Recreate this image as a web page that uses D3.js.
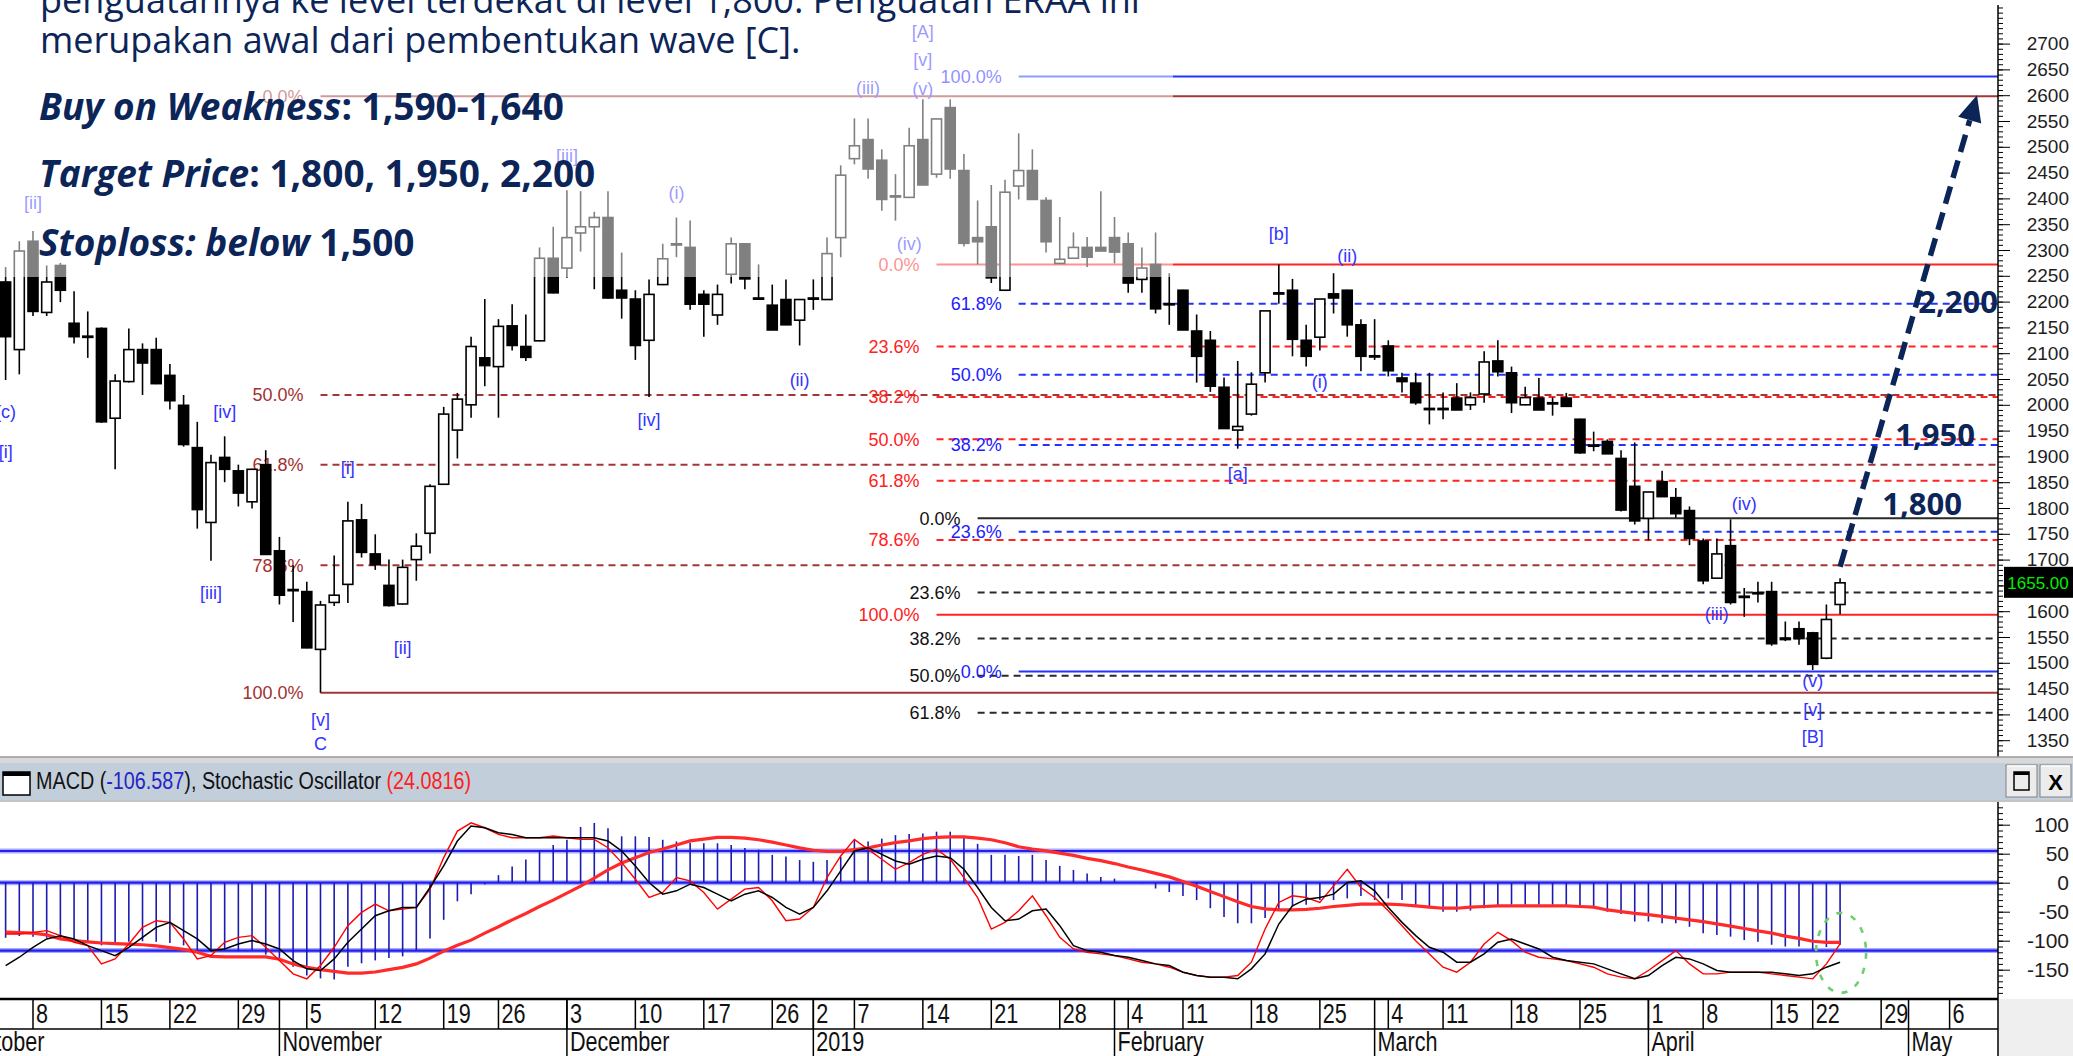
<!DOCTYPE html>
<html>
<head>
<meta charset="utf-8">
<script src="https://cdn.jsdelivr.net/npm/d3@7"></script>
<style>
  body { margin: 0; background: #fff; overflow: hidden; }
  svg { display: block; }
</style>
</head>
<body>
<div id="chart"></div>
<script>
// ---- data ----
var holidays = ["2018-11-20", "2018-12-24", "2018-12-25", "2018-12-31", "2019-01-01",
  "2019-02-05", "2019-03-07", "2019-04-03", "2019-04-17", "2019-04-19"];
var firstCandle = "2018-10-04";

var open = [2238,2107,2317,2179,2270,2158,2133,2148,1974,2045,
  2107,2107,2057,1999,1917,1772,1898,1872,1812,1884,
  1717,1642,1638,1526,1617,1652,1777,1711,1650,1614,
  1700,1751,1846,1951,2000,2091,2074,2153,2113,2124,
  2284,2265,2333,2345,2363,2222,2205,2125,2233,2311,
  2305,2214,2174,2253,2312,2207,2193,2204,2164,2207,
  2204,2324,2477,2514,2474,2405,2402,2514,2447,2576,
  2454,2324,2345,2222,2424,2454,2396,2274,2284,2305,
  2305,2324,2312,2243,2272,2196,2222,2143,2125,2034,
  1951,1982,2062,2217,2222,2125,2131,2215,2222,2155,
  2095,2114,2052,2042,1993,1993,2013,2000,2021,2085,
  2062,2000,2013,2004,2013,1972,1922,1929,1896,1842,
  1780,1851,1820,1795,1736,1664,1727,1629,1636,1638,
  1548,1566,1558,1509,1613];
var high = [2267,2317,2337,2270,2275,2220,2181,2150,2059,2148,
  2119,2130,2079,2019,1967,1903,1939,1884,1876,1912,
  1744,1689,1657,1620,1708,1812,1808,1749,1700,1700,
  1751,1846,1996,2023,2132,2205,2166,2195,2175,2305,
  2345,2416,2414,2374,2414,2295,2222,2243,2312,2363,
  2357,2222,2233,2324,2313,2272,2233,2243,2205,2243,
  2324,2464,2555,2555,2495,2447,2537,2592,2554,2592,
  2486,2396,2426,2436,2526,2495,2402,2364,2334,2325,
  2414,2364,2334,2305,2334,2255,2223,2175,2143,2053,
  2085,2063,2182,2272,2244,2155,2205,2255,2223,2166,
  2166,2125,2062,2062,2062,2024,2042,2024,2104,2125,
  2074,2035,2052,2014,2023,1973,1948,1933,1912,1927,
  1831,1872,1839,1803,1741,1741,1778,1645,1657,1657,
  1580,1580,1560,1613,1664];
var low = [2048,2059,2172,2172,2199,2119,2091,1965,1875,2043,
  2019,2040,1991,1919,1760,1698,1850,1803,1799,1709,
  1613,1579,1528,1442,1610,1616,1704,1680,1609,1613,
  1659,1712,1845,1896,1975,2036,1975,2105,2085,2123,
  2216,2246,2297,2224,2206,2167,2087,2015,2232,2286,
  2184,2132,2155,2235,2224,2206,2145,2155,2115,2184,
  2203,2286,2466,2438,2376,2357,2401,2426,2440,2438,
  2307,2272,2236,2221,2398,2397,2295,2273,2283,2267,
  2298,2274,2217,2217,2177,2155,2145,2043,2025,1954,
  1915,1979,2043,2196,2094,2074,2105,2177,2132,2065,
  2087,2055,2024,2000,1962,1972,1990,1990,2004,2055,
  1984,1999,1990,1979,1996,1905,1910,1905,1793,1768,
  1737,1822,1781,1728,1652,1664,1613,1589,1617,1533,
  1542,1535,1486,1507,1594];
var close = [2132,2298,2181,2238,2222,2132,2131,1967,2046,2107,
  2081,2041,2008,1923,1797,1888,1875,1829,1875,1710,
  1631,1640,1529,1612,1631,1775,1714,1690,1611,1685,
  1726,1842,1982,2011,2113,2076,2152,2115,2092,2284,
  2217,2324,2345,2363,2207,2207,2115,2214,2283,2312,
  2195,2195,2214,2312,2244,2207,2145,2155,2204,2207,
  2293,2445,2502,2457,2398,2405,2502,2426,2554,2457,
  2313,2316,2246,2412,2454,2398,2316,2282,2305,2286,
  2298,2296,2236,2265,2186,2196,2145,2094,2036,1954,
  1958,2040,2182,2217,2127,2094,2205,2207,2155,2094,
  2095,2066,2045,2004,1993,1993,1990,2014,2083,2064,
  2004,2014,1990,2004,1997,1907,1922,1905,1796,1775,
  1831,1822,1789,1741,1659,1711,1617,1629,1636,1537,
  1545,1547,1497,1584,1655];

var macdHist = [-95,-92,-93,-95,-96,-99,-101,-108,-106,-102,
  -101,-102,-104,-108,-117,-116,-116,-118,-116,-124,
  -133,-145,-160,-165,-167,-145,-139,-134,-130,-127,
  -116,-96,-64,-32,-20,-3,13,28,40,56,
  65,74,96,103,94,80,80,79,74,71,
  69,68,68,65,60,57,48,45,39,36,
  39,45,74,71,76,82,84,85,88,88,
  79,67,48,48,46,48,39,29,22,16,
  10,7,1,-1,-10,-16,-23,-30,-44,-59,
  -70,-70,-61,-47,-41,-38,-30,-30,-27,-23,
  -30,-27,-30,-40,-44,-50,-50,-48,-44,-41,
  -38,-38,-38,-38,-41,-41,-44,-50,-54,-67,
  -67,-70,-70,-76,-87,-90,-93,-99,-102,-107,
  -110,-110,-116,-111,-107];
var macdSignal = [-85,-86,-87,-90,-97,-100,-102,-104,-105,-106,
  -107,-109,-112,-115,-120,-127,-128,-128,-128,-128,
  -132,-140,-146,-150,-153,-156,-156,-154,-150,-146,
  -140,-130,-118,-108,-99,-87,-76,-64,-53,-41,
  -30,-18,-6,8,22,34,43,52,58,65,
  72,75,78,78,77,74,70,65,60,56,
  54,54,57,60,65,69,72,76,78,79,
  79,77,74,69,62,58,55,51,47,42,
  38,33,27,22,16,10,2,-6,-15,-24,
  -33,-41,-45,-47,-47,-46,-44,-41,-39,-37,
  -37,-37,-38,-40,-42,-44,-44,-42,-41,-40,
  -40,-40,-40,-40,-40,-41,-42,-47,-50,-53,
  -55,-58,-61,-64,-67,-71,-75,-79,-83,-87,
  -92,-96,-101,-103,-103];
var stochK = [30,30,31,32,29,25,23,12,15,24,
  34,38,37,27,15,17,25,28,29,22,
  14,6,3,11,22,35,43,48,44,45,
  46,57,76,92,97,94,90,88,88,88,
  89,88,87,87,82,73,63,52,55,64,
  62,55,45,51,57,58,50,38,39,46,
  64,77,87,81,75,69,73,78,81,75,
  64,52,33,37,44,53,41,28,21,19,
  18,17,15,13,12,10,7,5,4,4,
  5,13,33,49,53,52,49,59,69,58,
  52,44,35,26,18,10,7,13,24,31,
  26,19,16,15,14,12,10,6,4,3,
  8,14,20,12,6,6,7,7,7,6,
  5,4,3,12,24.08];
var stochD = [11,16,22,27,29,27,23,20,17,22,
  28,34,37,32,27,20,21,24,26,24,
  21,14,9,8,15,25,33,41,44,46,
  46,58,71,86,95,94,91,90,88,88,
  88,88,88,88,86,80,71,61,54,56,
  60,58,54,50,54,56,52,46,42,46,
  56,68,80,82,78,74,72,75,77,76,
  69,58,46,38,39,44,45,35,23,20,
  19,17,16,14,12,11,7,5,4,4,
  3,9,18,36,47,51,52,54,61,62,
  56,46,37,29,22,19,13,13,18,25,
  27,24,21,16,14,13,12,9,6,3,
  5,11,16,15,12,8,7,7,7,7,
  6,5,6,10,13];

var priceTicks = d3.range(1350, 2701, 50);
var macdTicks = [-150, -100, -50, 0, 50, 100];
var stochLevels = [80, 20];
var monthNames = ["2019", "February", "March", "April", "May", "June", "July", "August",
  "September", "October", "November", "December"];

// fibonacci retracement sets
var brownLevels = [2598, 2019, 1884, 1689, 1442];
var brownPct = ["0.0%", "50.0%", "61.8%", "78.6%", "100.0%"];
var redLevels = [2272, 2113, 2015, 1933, 1853, 1738, 1593];
var redPct = ["0.0%", "23.6%", "38.2%", "50.0%", "61.8%", "78.6%", "100.0%"];
var blueLevels = [2636, 2196, 2058, 1922, 1754, 1483];
var bluePct = ["100.0%", "61.8%", "50.0%", "38.2%", "23.6%", "0.0%"];
var blackLevels = [1780, 1636, 1547, 1475, 1403];
var blackPct = ["0.0%", "23.6%", "38.2%", "50.0%", "61.8%"];

var waveText = ["[ii]", "(c)", "[i]", "[iv]", "[iii]", "[i]", "[ii]", "[v]", "C", "[iii]", "(i)",
  "[iv]", "(ii)", "(iii)", "[A]", "[v]", "(v)", "(iv)", "[a]", "[b]", "(ii)", "(i)", "(iii)",
  "(iv)", "(v)", "[v]", "[B]"];
var waveDate = ["2018-10-08", "2018-10-04", "2018-10-04", "2018-10-26", "2018-10-25", "2018-11-08",
  "2018-11-14", "2018-11-06", "2018-11-06", "2018-12-03", "2018-12-13", "2018-12-11", "2018-12-28",
  "2019-01-08", "2019-01-14", "2019-01-14", "2019-01-14", "2019-01-11", "2019-02-15", "2019-02-20",
  "2019-02-27", "2019-02-25", "2019-04-09", "2019-04-11", "2019-04-22", "2019-04-22", "2019-04-22"];
var wavePrice = [2391, 1986, 1910, 1986, 1635, 1879, 1529, 1389, 1343, 2482, 2412, 1972, 2048,
  2614, 2724, 2668, 2612, 2312, 1866, 2331, 2288, 2044, 1595, 1808, 1465, 1409, 1356];

var targetText = ["2,200", "1,950", "1,800"];
var targetPrice = [2200, 1941, 1808];

// ---- layout ----
var W = 2073, H = 1056;
var axisX = 1998, priceBottom = 757;
var navy = "#0c2558";

var fmt = d3.timeFormat("%Y-%m-%d"), parse = d3.timeParse("%Y-%m-%d");
var days = d3.timeDay.range(new Date(2018, 9, 1), new Date(2019, 4, 11))
  .filter(function(d) { return d.getDay() > 0 && d.getDay() < 6 && holidays.indexOf(fmt(d)) < 0; })
  .map(fmt);
var step = 13.69;
var x0 = 33 - days.indexOf("2018-10-08") * step;
var x = d3.scalePoint().domain(days).range([x0, x0 + step * (days.length - 1)]);

var startIdx = days.indexOf(firstCandle);
var candles = open.map(function(o, i) {
  return {date: days[startIdx + i], o: o, h: high[i], l: low[i], c: close[i],
    macd: macdHist[i], sig: macdSignal[i], k: stochK[i], d: stochD[i]};
});

var y = d3.scaleLinear().domain([1350, 2700]).range([740.2, 43.6]);
var yM = d3.scaleLinear().domain([-150, 100]).range([969.7, 824.7]);
var yS = d3.scaleLinear().domain([20, 80]).range([950.6, 851]);

var svg = d3.select("#chart").append("svg")
  .attr("width", W).attr("height", H)
  .style("font-family", "'Liberation Sans', Arial, sans-serif");

var defs = svg.append("defs");
defs.append("clipPath").attr("id", "clipPrice")
  .append("rect").attr("x", 0).attr("y", 0).attr("width", axisX).attr("height", priceBottom);
defs.append("clipPath").attr("id", "clipMacd")
  .append("rect").attr("x", 0).attr("y", 802).attr("width", axisX).attr("height", 197);

svg.append("rect").attr("width", W).attr("height", H).attr("fill", "#fff");

// ---- price panel ----
var price = svg.append("g").attr("clip-path", "url(#clipPrice)");

function fibSet(levels, pcts, color, labelColor, startDate, solidIdx) {
  var x1 = x(startDate);
  var g = price.append("g");
  levels.forEach(function(v, i) {
    var solid = solidIdx.indexOf(i) >= 0;
    g.append("line")
      .attr("x1", x1).attr("x2", axisX)
      .attr("y1", y(v)).attr("y2", y(v))
      .attr("stroke", color).attr("stroke-width", 2)
      .attr("stroke-dasharray", solid ? null : "7,5");
    g.append("text")
      .attr("x", x1 - 17).attr("y", y(v))
      .attr("dy", "0.35em")
      .attr("text-anchor", "end")
      .attr("fill", labelColor)
      .style("font-size", "18px")
      .text(pcts[i]);
  });
}

fibSet(brownLevels, brownPct, "#a33636", "#a33030", "2018-11-06", [0, 4]);
fibSet(redLevels, redPct, "#ff2424", "#ff2020", "2019-01-15", [0, 6]);
fibSet(blackLevels, blackPct, "#2a2a2a", "#111", "2019-01-18", [0]);
fibSet(blueLevels, bluePct, "#2233ff", "#2020ff", "2019-01-23", [0, 5]);

// candles
var bw = 10;
var cg = price.append("g");
cg.selectAll("line.wick").data(candles).enter().append("line")
  .attr("class", "wick")
  .attr("x1", function(d) { return x(d.date); })
  .attr("x2", function(d) { return x(d.date); })
  .attr("y1", function(d) { return y(d.h); })
  .attr("y2", function(d) { return y(d.l); })
  .attr("stroke", "#000").attr("stroke-width", 1.6);
cg.selectAll("rect.body").data(candles).enter().append("rect")
  .attr("class", "body")
  .attr("x", function(d) { return x(d.date) - bw / 2; })
  .attr("y", function(d) { return y(Math.max(d.o, d.c)); })
  .attr("width", bw)
  .attr("height", function(d) { return Math.max(1.2, Math.abs(y(d.o) - y(d.c))); })
  .attr("fill", function(d) { return d.c > d.o ? "#fff" : "#000"; })
  .attr("stroke", "#000").attr("stroke-width", 1.6);

// wave labels
price.append("g").selectAll("text").data(waveText).enter().append("text")
  .attr("x", function(d, i) { return x(waveDate[i]); })
  .attr("y", function(d, i) { return y(wavePrice[i]); })
  .attr("dy", "0.35em")
  .attr("text-anchor", "middle")
  .attr("fill", "#3434ff")
  .style("font-size", "18px")
  .text(function(d) { return d; });

// translucent box behind the commentary
price.append("rect")
  .attr("x", 0).attr("y", 0).attr("width", 1173).attr("height", 277)
  .attr("fill", "#fff").attr("opacity", 0.5);

// commentary text
var txt = svg.append("g")
  .style("font-family", "'Open Sans', 'Noto Sans', sans-serif")
  .attr("fill", navy);
txt.append("text").attr("x", 40).attr("y", 13).style("font-size", "36px")
  .text("penguatannya ke level terdekat di level 1,800. Penguatan ERAA ini");
txt.append("text").attr("x", 40).attr("y", 53).style("font-size", "36px")
  .text("merupakan awal dari pembentukan wave [C].");
var bold = [
  [["Buy on Weakness", true], [": 1,590-1,640", false]],
  [["Target Price", true], [": 1,800, 1,950, 2,200", false]],
  [["Stoploss: below", true], [" 1,500", false]]
];
var boldY = [120, 187, 256];
bold.forEach(function(parts, i) {
  var t = txt.append("text").attr("x", 39).attr("y", boldY[i])
    .style("font-size", "37px").style("font-weight", 700);
  parts.forEach(function(p) {
    t.append("tspan").style("font-style", p[1] ? "italic" : "normal").text(p[0]);
  });
});

// target labels
var targetRight = [1998, 1975, 1962];
svg.append("g").selectAll("text").data(targetText).enter().append("text")
  .attr("x", function(d, i) { return targetRight[i]; })
  .attr("y", function(d, i) { return y(targetPrice[i]); })
  .attr("dy", "0.36em")
  .attr("text-anchor", "end")
  .attr("fill", navy)
  .style("font-family", "'Open Sans', sans-serif")
  .style("font-size", "31px").style("font-weight", 700)
  .text(function(d) { return d; });

// projection arrow
var ax1 = x("2019-04-24"), ay1 = y(1686), ax2 = x("2019-05-08"), ay2 = y(2600);
var ang = Math.atan2(ay2 - ay1, ax2 - ax1), headLen = 26, headW = 12;
var bx = ax2 - headLen * Math.cos(ang), by = ay2 - headLen * Math.sin(ang);
svg.append("line")
  .attr("x1", ax1).attr("y1", ay1).attr("x2", bx).attr("y2", by)
  .attr("stroke", navy).attr("stroke-width", 5.5).attr("stroke-dasharray", "18,9");
svg.append("path")
  .attr("d", "M" + ax2 + "," + ay2 +
    "L" + (bx + headW * Math.sin(ang)) + "," + (by - headW * Math.cos(ang)) +
    "L" + (bx - headW * Math.sin(ang)) + "," + (by + headW * Math.cos(ang)) + "Z")
  .attr("fill", navy);

// price axis
svg.append("line").attr("x1", axisX).attr("x2", axisX).attr("y1", 5).attr("y2", priceBottom)
  .attr("stroke", "#000").attr("stroke-width", 1.5);
var minorP = d3.range(1320, 2790, 10).filter(function(v) { return y(v) > 6 && y(v) < priceBottom - 2; });
var gpm = svg.append("g").attr("transform", "translate(" + axisX + ",0)")
  .call(d3.axisRight(y).tickValues(minorP).tickSize(5).tickFormat(""));
gpm.select(".domain").remove();
var gpM = svg.append("g").attr("transform", "translate(" + axisX + ",0)")
  .call(d3.axisRight(y).tickValues(priceTicks).tickSize(12).tickFormat(function(v) { return String(v); }));
gpM.select(".domain").remove();
gpM.selectAll("text").attr("x", 71).attr("text-anchor", "end")
  .attr("fill", "#1e1e1e").style("font-size", "19px").style("font-family", "'Liberation Sans', Arial");
svg.selectAll(".tick line").attr("stroke", "#000");

// last price box
var lastC = close[close.length - 1];
svg.append("rect").attr("x", 2004).attr("y", y(lastC) - 16).attr("width", 69).attr("height", 31)
  .attr("fill", "#000");
svg.append("text").attr("x", 2038).attr("y", y(lastC)).attr("dy", "0.36em")
  .attr("text-anchor", "middle").attr("fill", "#00ee00").style("font-size", "17px")
  .text(lastC.toFixed(2));

// ---- separator and indicator header ----
svg.append("rect").attr("x", 0).attr("y", priceBottom).attr("width", W).attr("height", 6).attr("fill", "#d9d9d9");
svg.append("line").attr("x1", 0).attr("x2", W).attr("y1", priceBottom).attr("y2", priceBottom)
  .attr("stroke", "#9a9a9a").attr("stroke-width", 1.5);
svg.append("rect").attr("x", 0).attr("y", 763).attr("width", W).attr("height", 37).attr("fill", "#c3cedb");
svg.append("line").attr("x1", 0).attr("x2", W).attr("y1", 801).attr("y2", 801)
  .attr("stroke", "#b0b0b0").attr("stroke-width", 1.5);
svg.append("rect").attr("x", 3).attr("y", 772).attr("width", 27).attr("height", 23)
  .attr("fill", "#fff").attr("stroke", "#000").attr("stroke-width", 1.5);
svg.append("rect").attr("x", 3).attr("y", 772).attr("width", 27).attr("height", 4).attr("fill", "#000");
var head = svg.append("text").attr("transform", "translate(36,789) scale(0.86,1)")
  .style("font-family", "'Liberation Sans Narrow', 'Liberation Sans', Arial")
  .style("font-size", "23px").attr("fill", "#111");
head.append("tspan").text("MACD (");
head.append("tspan").attr("fill", "#2424c8").text("-106.587");
head.append("tspan").text("), Stochastic Oscillator ");
head.append("tspan").attr("fill", "#ff2020").text("(24.0816)");
[2006, 2040].forEach(function(bxp, i) {
  svg.append("rect").attr("x", bxp).attr("y", 765).attr("width", 31).attr("height", 32)
    .attr("fill", "#ececec").attr("stroke", "#808080").attr("stroke-width", 1);
  svg.append("line").attr("x1", bxp + 1).attr("x2", bxp + 30).attr("y1", 766).attr("y2", 766)
    .attr("stroke", "#fff").attr("stroke-width", 1.5);
  if (i === 0) {
    svg.append("rect").attr("x", bxp + 8).attr("y", 772).attr("width", 15).attr("height", 18)
      .attr("fill", "none").attr("stroke", "#000").attr("stroke-width", 1.5);
    svg.append("rect").attr("x", bxp + 8).attr("y", 772).attr("width", 15).attr("height", 3).attr("fill", "#000");
  } else {
    svg.append("text").attr("x", bxp + 15.5).attr("y", 790).attr("text-anchor", "middle")
      .style("font-size", "22px").style("font-weight", 700).text("X");
  }
});

// ---- MACD / stochastic panel ----
var macd = svg.append("g").attr("clip-path", "url(#clipMacd)");
var levelY = [yS(stochLevels[0]), yM(0), yS(stochLevels[1])];
levelY.forEach(function(ly) {
  macd.append("line").attr("x1", 0).attr("x2", axisX).attr("y1", ly).attr("y2", ly)
    .attr("stroke", "#a9a9ff").attr("stroke-width", 5);
  macd.append("line").attr("x1", 0).attr("x2", axisX).attr("y1", ly).attr("y2", ly)
    .attr("stroke", "#2020f0").attr("stroke-width", 2.2);
});
macd.selectAll("line.hist").data(candles).enter().append("line")
  .attr("class", "hist")
  .attr("x1", function(d) { return x(d.date); })
  .attr("x2", function(d) { return x(d.date); })
  .attr("y1", yM(0))
  .attr("y2", function(d) { return yM(d.macd); })
  .attr("stroke", "#1b1bb0").attr("stroke-width", 1.6);
macd.append("path").datum(candles)
  .attr("fill", "none").attr("stroke", "#ff2b2b").attr("stroke-width", 3.2)
  .attr("d", d3.line().x(function(d) { return x(d.date); }).y(function(d) { return yM(d.sig); }));
macd.append("path").datum(candles)
  .attr("fill", "none").attr("stroke", "#ff0000").attr("stroke-width", 1.4)
  .attr("d", d3.line().x(function(d) { return x(d.date); }).y(function(d) { return yS(d.k); }));
macd.append("path").datum(candles)
  .attr("fill", "none").attr("stroke", "#000").attr("stroke-width", 1.5)
  .attr("d", d3.line().x(function(d) { return x(d.date); }).y(function(d) { return yS(d.d); }));
macd.append("ellipse")
  .attr("cx", x("2019-04-24") + 1).attr("cy", yM(-121)).attr("rx", 25).attr("ry", 40)
  .attr("fill", "none").attr("stroke", "#6ccf6c").attr("stroke-width", 2.6)
  .attr("stroke-dasharray", "6,9");

// MACD axis
svg.append("line").attr("x1", axisX).attr("x2", axisX).attr("y1", 802).attr("y2", 999)
  .attr("stroke", "#000").attr("stroke-width", 1.5);
var minorM = d3.range(-200, 160, 10).filter(function(v) { return yM(v) > 805 && yM(v) < 997; });
var gmm = svg.append("g").attr("transform", "translate(" + axisX + ",0)")
  .call(d3.axisRight(yM).tickValues(minorM).tickSize(5).tickFormat(""));
gmm.select(".domain").remove();
var gmM = svg.append("g").attr("transform", "translate(" + axisX + ",0)")
  .call(d3.axisRight(yM).tickValues(macdTicks).tickSize(12).tickFormat(function(v) { return String(v); }));
gmM.select(".domain").remove();
gmM.selectAll("text").attr("x", 71).attr("text-anchor", "end").attr("fill", "#1e1e1e")
  .style("font-size", "21px").style("font-family", "'Liberation Sans Narrow', 'Liberation Sans', Arial");
svg.selectAll(".tick line").attr("stroke", "#000");

// ---- date axis ----
var ax = svg.append("g");
ax.append("rect").attr("x", axisX).attr("y", 999).attr("width", W - axisX).attr("height", H - 999)
  .attr("fill", "#efefef");
ax.append("line").attr("x1", 0).attr("x2", axisX).attr("y1", 999).attr("y2", 999)
  .attr("stroke", "#000").attr("stroke-width", 2.5);
ax.append("line").attr("x1", 0).attr("x2", axisX).attr("y1", 1029).attr("y2", 1029)
  .attr("stroke", "#000").attr("stroke-width", 1.5);
ax.append("line").attr("x1", axisX).attr("x2", axisX).attr("y1", 999).attr("y2", H)
  .attr("stroke", "#000").attr("stroke-width", 1.5);

var weekStarts = days.filter(function(d, i) {
  return i === 0 || +d3.timeMonday.floor(parse(d)) !== +d3.timeMonday.floor(parse(days[i - 1]));
});
var monthStarts = days.filter(function(d, i) {
  return i === 0 || d.slice(0, 7) !== days[i - 1].slice(0, 7);
});
defs.append("clipPath").attr("id", "clipAxis")
  .append("rect").attr("x", 0).attr("y", 999).attr("width", axisX).attr("height", 57);
var axClip = ax.append("g").attr("clip-path", "url(#clipAxis)");

axClip.selectAll("line.wk").data(weekStarts).enter().append("line")
  .attr("x1", function(d) { return x(d); }).attr("x2", function(d) { return x(d); })
  .attr("y1", 999).attr("y2", 1029).attr("stroke", "#000").attr("stroke-width", 1.5);
axClip.selectAll("line.mo").data(monthStarts).enter().append("line")
  .attr("x1", function(d) { return x(d); }).attr("x2", function(d) { return x(d); })
  .attr("y1", 999).attr("y2", H).attr("stroke", "#000").attr("stroke-width", 1.5);
axClip.selectAll("text.wk").data(weekStarts).enter().append("text")
  .attr("transform", function(d) { return "translate(" + (x(d) + 3) + ",1023) scale(0.8,1)"; })
  .style("font-family", "'Liberation Sans Narrow', 'Liberation Sans', Arial")
  .style("font-size", "27px").attr("fill", "#111")
  .text(function(d) { return +d.slice(8); });
axClip.selectAll("text.mo").data(monthStarts).enter().append("text")
  .attr("transform", function(d) { return "translate(" + (x(d) + 3) + ",1051) scale(0.8,1)"; })
  .style("font-family", "'Liberation Sans Narrow', 'Liberation Sans', Arial")
  .style("font-size", "27px").attr("fill", "#111")
  .text(function(d) { return monthNames[(+d.slice(5, 7) - 1)]; });
</script>
</body>
</html>
